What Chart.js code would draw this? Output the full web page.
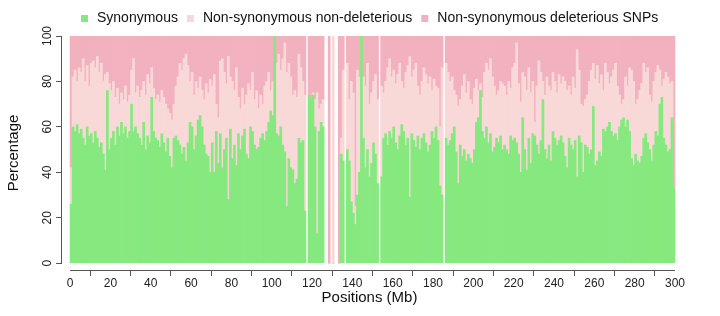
<!DOCTYPE html>
<html>
<head>
<meta charset="utf-8">
<title>SNP classes along the chromosome</title>
<script src="https://cdn.jsdelivr.net/npm/chart.js@4.4.1/dist/chart.umd.min.js"></script>
<style>
  html, body { margin: 0; padding: 0; background: #fff; }
  #wrap { width: 720px; height: 316px; }
</style>
</head>
<body>
<div id="wrap"><canvas id="snpChart" width="720" height="316"></canvas></div>
<script>
// DATA - one bar per 1 Mb window, percent of SNPs in each class (null = no SNPs)
const seriesNames = ["Synonymous", "Non-synonymous non-deleterious", "Non-synonymous deleterious SNPs"];
const seriesColors = ["#86E97F", "#F9D8D8", "#F2B1BF"];
const xTickLabels = [0, 20, 40, 60, 80, 100, 120, 140, 160, 180, 200, 220, 240, 260, 280, 300];
const yTickLabels = [0, 20, 40, 60, 80, 100];

const synonymous = [
  26,60,58,61,57,59,55,52,60,56,  57,53,58,55,51,53,48,41,76,50,
  55,58,52,60,56,62,57,60,55,58,  70,58,60,57,55,52,62,50,56,53,
  73,58,55,54,51,57,53,49,55,47,  42,55,56,54,52,48,51,45,53,62,
  60,50,56,63,65,60,52,48,47,40,  53,40,58,44,57,42,50,55,28,59,
  46,52,43,57,50,56,59,48,46,60,  58,52,50,51,55,57,54,58,62,67,
  65,100,57,56,60,52,49,25,46,42, 41,35,37,55,53,54,23,null,74,72,
  74,60,13,58,62,60,null,null,0,null, 0,null,null,0,48,45,null,50,45,27,
  22,17,30,40,100,55,42,50,38,44, 53,48,35,null,38,55,57,52,58,55,
  60,53,50,56,61,58,52,55,29,57,  54,51,56,50,55,57,53,49,52,58,
  55,60,54,34,30,null,55,52,54,57, 60,49,35,52,47,50,45,48,46,44,
  50,62,64,76,58,55,60,53,57,49,  51,55,53,56,50,52,50,48,56,54,
  55,53,48,40,64,50,41,55,44,57,  56,52,48,54,72,50,46,52,45,58,
  55,52,54,56,53,47,42,55,52,50,  54,38,56,53,40,52,51,48,50,69,
  43,45,49,47,59,58,60,62,58,56,  57,54,60,63,64,60,63,58,46,43,
  48,45,44,47,55,57,53,50,45,52,  58,56,70,73,55,52,49,50,64,33
];

const nonDeleterious = [
  16,22,27,19,29,25,35,28,27,22,  31,36,28,36,33,35,32,42,8,29,
  21,22,21,17,14,13,15,18,16,16,  15,32,15,21,18,24,18,24,27,26,
  13,19,17,20,20,19,20,21,13,19,  21,15,22,28,36,37,39,47,34,18,
  24,24,24,14,17,16,20,31,28,41,  25,43,12,20,32,48,34,24,63,23,
  34,24,43,16,18,21,11,26,33,16,  26,20,26,17,19,13,24,22,22,9,
  15,0,31,36,25,38,48,59,42,40,   33,41,36,37,33,26,51,null,0,0,
  1,12,62,10,8,12,null,null,0,null, 100,null,null,0,7,40,null,38,27,53,
  53,8,55,42,0,27,36,38,32,31,    27,35,37,null,40,20,23,34,32,27,
  25,26,33,32,19,19,32,32,62,25,  31,37,22,24,25,29,30,30,30,18,
  26,18,23,26,56,null,33,32,26,25, 16,25,34,20,31,33,30,32,26,26,
  27,19,12,3,15,29,28,32,33,33,   27,19,23,24,29,26,24,32,21,32,
  33,44,31,31,20,32,35,31,31,23,  6,26,41,30,8,24,36,26,31,26,
  25,23,29,23,29,33,34,23,22,32,  23,56,29,17,29,20,23,32,35,19,
  38,42,30,36,17,30,24,17,24,29,  31,24,14,7,8,22,15,28,39,37,
  22,27,32,32,33,27,33,24,26,28,  26,31,15,5,26,32,33,29,16,0
];

const deleterious = [
  58,18,15,20,14,16,10,20,13,22,  12,11,14,9,16,12,20,17,16,21,
  24,20,27,23,30,25,28,22,29,26,  15,10,25,22,27,24,20,26,17,21,
  14,23,28,26,29,24,27,30,32,34,  37,30,22,18,12,15,10,8,13,20,
  16,26,20,23,18,24,28,21,25,19,  22,17,30,36,11,10,16,21,9,18,
  20,24,14,27,32,23,30,26,21,24,  16,28,24,32,26,30,22,20,16,24,
  20,0,12,8,15,10,3,16,12,18,     26,24,27,8,14,20,26,null,26,28,
  25,28,25,32,30,28,null,null,100,null, 0,null,null,100,45,15,null,12,28,20,
  25,75,15,18,0,18,22,12,30,25,   20,17,28,null,22,25,20,14,10,18,
  15,21,17,12,20,23,16,13,9,18,   15,12,22,26,20,14,17,21,18,24,
  19,22,23,40,14,null,12,16,20,18, 24,26,31,28,22,17,25,20,28,30,
  23,19,24,21,27,16,12,15,10,18,  22,26,24,20,21,22,26,20,23,14,
  12,3,21,29,16,18,24,14,25,20,   38,22,11,16,20,26,18,22,24,16,
  20,25,17,21,18,20,24,22,26,18,  23,6,15,30,31,28,26,20,15,12,
  19,13,21,17,24,12,16,21,18,15,  12,22,26,30,28,18,22,14,15,20,
  30,28,24,21,12,16,14,26,29,20,  16,13,15,22,19,16,18,21,20,67
];

// window start (Mb) of each bar
const windowStart = synonymous.map((v, i) => i);

function toPoints(values) {
  return values.map((v, i) => ({ x: windowStart[i] + 0.5, y: v }));
}

const FONT = "'Liberation Sans', Arial, Helvetica, sans-serif";

// R style axes: lines only from first to last tick
const rAxisLines = {
  id: "rAxisLines",
  afterDraw(chart) {
    const { ctx } = chart;
    const xs = chart.scales.x, ys = chart.scales.y;
    ctx.save();
    ctx.strokeStyle = "#555";
    ctx.lineWidth = 1;
    ctx.beginPath();
    const yb = Math.round(xs.top) + 0.5;
    ctx.moveTo(xs.getPixelForValue(xTickLabels[0]), yb);
    ctx.lineTo(xs.getPixelForValue(xTickLabels[xTickLabels.length - 1]), yb);
    const xl = Math.round(ys.right) - 0.5;
    ctx.moveTo(xl, ys.getPixelForValue(yTickLabels[0]));
    ctx.lineTo(xl, ys.getPixelForValue(yTickLabels[yTickLabels.length - 1]));
    ctx.stroke();
    ctx.restore();
  }
};

// legend drawn in one row like R's legend(horiz = TRUE)
const rLegend = {
  id: "rLegend",
  afterDraw(chart) {
    const { ctx } = chart;
    ctx.save();
    ctx.font = "14px " + FONT;
    ctx.textBaseline = "middle";
    ctx.textAlign = "left";
    let x = 81;
    const y = 18;
    seriesNames.forEach((name, i) => {
      ctx.fillStyle = seriesColors[i];
      ctx.fillRect(x, y - 3, 7, 7);
      x += 16;
      ctx.fillStyle = "#111";
      ctx.fillText(name, x, y);
      x += ctx.measureText(name).width + 9;
    });
    ctx.restore();
  }
};

const ctx = document.getElementById("snpChart");

const chart = new Chart(ctx, {
  type: "bar",
  data: {
    datasets: seriesNames.map((name, i) => ({
      label: name,
      data: toPoints([synonymous, nonDeleterious, deleterious][i]),
      backgroundColor: seriesColors[i],
      borderWidth: 0,
      barPercentage: 1,
      categoryPercentage: 1
    }))
  },
  options: {
    responsive: false,
    animation: false,
    devicePixelRatio: 1,
    events: [],
    layout: { padding: { top: 36, right: 43, bottom: 0, left: 0 } },
    plugins: {
      legend: { display: false },
      tooltip: { enabled: false }
    },
    scales: {
      x: {
        type: "linear",
        stacked: true,
        min: -4,
        max: 301,
        offset: false,
        afterBuildTicks: s => { s.ticks = xTickLabels.map(v => ({ value: v })); },
        afterFit: s => { s.height = 46; },
        grid: { drawOnChartArea: false, drawTicks: true, tickLength: 6, color: "#555" },
        border: { display: false },
        ticks: { autoSkip: false, maxRotation: 0, padding: 0, color: "#222", font: { family: FONT, size: 12 } },
        title: { display: true, text: "Positions (Mb)", color: "#111", font: { family: FONT, size: 15 }, padding: { top: 0, bottom: 9 } }
      },
      y: {
        stacked: true,
        min: -3,
        max: 100,
        afterBuildTicks: s => { s.ticks = yTickLabels.map(v => ({ value: v })); },
        afterFit: s => { s.width = 62; },
        grid: { drawOnChartArea: false, drawTicks: true, tickLength: 6, color: "#555" },
        border: { display: false },
        ticks: { minRotation: 90, maxRotation: 90, crossAlign: "center", padding: -2, color: "#222", font: { family: FONT, size: 12 } },
        title: { display: true, text: "Percentage", color: "#111", font: { family: FONT, size: 15 }, padding: { top: 5, bottom: 0 } }
      }
    }
  },
  plugins: [rAxisLines, rLegend]
});
</script>
</body>
</html>
